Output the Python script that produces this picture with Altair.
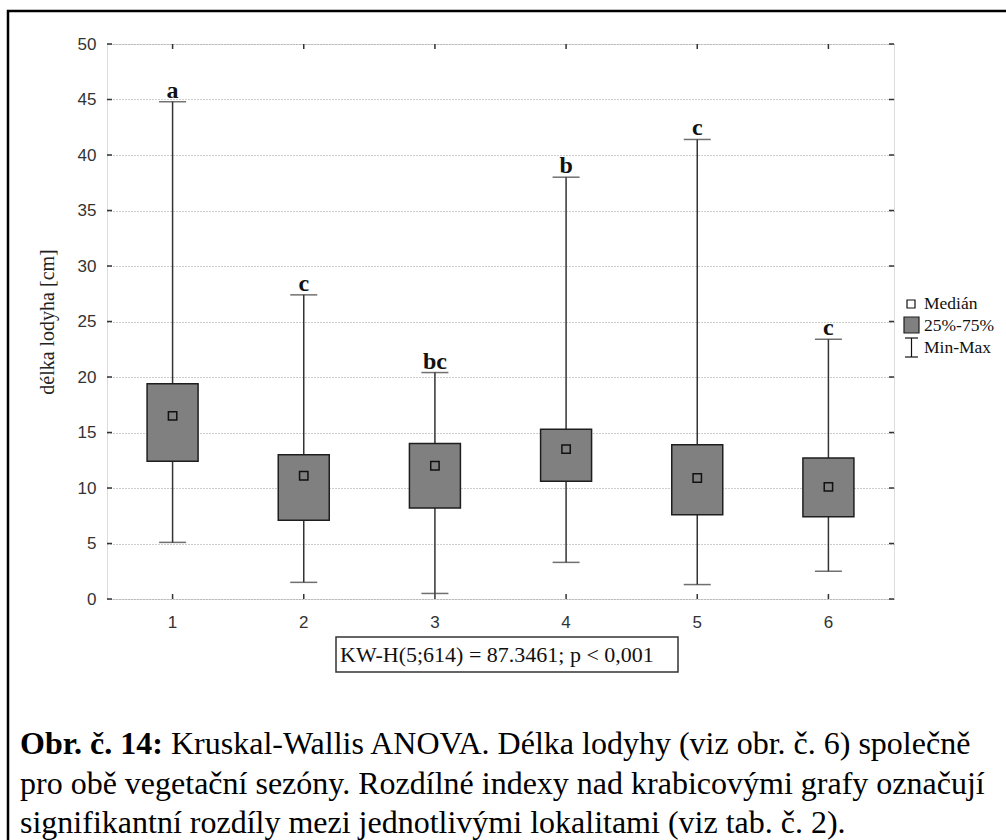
import altair as alt
import pandas as pd

sites = ["1", "2", "3", "4", "5", "6"]
mins = [5.1, 1.5, 0.5, 3.3, 1.3, 2.5]
q1 = [12.4, 7.1, 8.2, 10.6, 7.6, 7.4]
medians = [16.5, 11.1, 12.0, 13.5, 10.9, 10.1]
q3 = [19.4, 13.0, 14.0, 15.3, 13.9, 12.7]
maxs = [44.8, 27.4, 20.4, 38.0, 41.4, 23.4]
letters = ["a", "c", "bc", "b", "c", "c"]
yticks = [0, 5, 10, 15, 20, 25, 30, 35, 40, 45, 50]
legend_labels = ["Medián", "25%-75%", "Min-Max"]
kw_text = "KW-H(5;614) = 87.3461; p  < 0,001"
caption_bold = "Obr. č. 14:"
caption_line1 = "Kruskal-Wallis ANOVA. Délka lodyhy (viz obr. č. 6) společně"
caption_lines = [
    "pro obě vegetační sezóny. Rozdílné indexy nad krabicovými grafy označují",
    "signifikantní rozdíly mezi jednotlivými lokalitami (viz tab. č. 2).",
]

W, H = 787, 555
PL, PT = 107, 44

df = pd.DataFrame({"site": sites, "min": mins, "q1": q1, "med": medians,
                   "q3": q3, "max": maxs, "letter": letters})
ticks_df = pd.DataFrame({"v": yticks})
one = pd.DataFrame({"k": [0]})

xenc = alt.X("site:N", sort=sites,
             scale=alt.Scale(paddingInner=0, paddingOuter=0),
             axis=alt.Axis(title=None, labelAngle=0, tickSize=0, domain=False,
                           labelFont="Liberation Sans", labelFontSize=17,
                           labelColor="#333", labelPadding=15))
yscale = alt.Scale(domain=[0, 50], nice=False, zero=True)
yaxis = alt.Axis(values=yticks, grid=True, gridDash=[1, 2], gridColor="#9a9a9a",
                 gridWidth=1, tickSize=0, domain=False,
                 labelFont="Liberation Sans", labelFontSize=17, labelColor="#333",
                 labelPadding=11, title="délka lodyha [cm]",
                 titleFont="Liberation Serif", titleFontSize=20,
                 titleFontWeight="normal", titleColor="#222", titlePadding=20)

base = alt.Chart(df)

whisk = base.mark_rule(color="#333", strokeWidth=1.5).encode(
    x=xenc, y=alt.Y("min:Q", scale=yscale, axis=yaxis), y2="max:Q")
cap_lo = base.mark_tick(color="#333", size=27, thickness=1.5).encode(
    x="site:N", y="min:Q")
cap_hi = base.mark_tick(color="#333", size=27, thickness=1.5).encode(
    x="site:N", y="max:Q")
box = base.mark_bar(size=51, color="#808080", stroke="#1e1e1e",
                    strokeWidth=1.5).encode(x="site:N", y="q1:Q", y2="q3:Q")
med = base.mark_point(shape="square", size=70, filled=True, fill="#808080",
                      stroke="#111", strokeWidth=1.5, opacity=1).encode(
    x="site:N", y="med:Q")
lett = base.mark_text(font="Liberation Serif", fontSize=24, fontWeight="bold",
                      color="#111", baseline="alphabetic", dy=-4).encode(
    x="site:N", y="max:Q", text="letter:N")

tk = alt.Chart(ticks_df)
yt_l = tk.mark_rule(color="#333", strokeWidth=1.5).encode(
    y="v:Q", x=alt.value(0), x2=alt.value(5))
yt_r = tk.mark_rule(color="#333", strokeWidth=1.5).encode(
    y="v:Q", x=alt.value(W - 5), x2=alt.value(W))
xt_b = base.mark_rule(color="#333", strokeWidth=1.5).encode(
    x="site:N", y=alt.value(H - 5), y2=alt.value(H))
xt_t = base.mark_rule(color="#333", strokeWidth=1.5).encode(
    x="site:N", y=alt.value(0), y2=alt.value(5))

o = alt.Chart(one)
# legend
lg_med = o.mark_point(shape="square", size=64, filled=True, fill="white",
                      stroke="#111", strokeWidth=1.2, opacity=1).encode(
    x=alt.value(911 - PL), y=alt.value(304 - PT))
lg_box = o.mark_rect(fill="#808080", stroke="#1e1e1e", strokeWidth=1.2).encode(
    x=alt.value(904 - PL), x2=alt.value(919 - PL),
    y=alt.value(317 - PT), y2=alt.value(333 - PT))
lg_w1 = o.mark_rule(color="#111", strokeWidth=1.2).encode(
    x=alt.value(911.5 - PL), y=alt.value(338 - PT), y2=alt.value(357 - PT))
lg_w2 = o.mark_rule(color="#111", strokeWidth=1.2).encode(
    x=alt.value(905 - PL), x2=alt.value(918 - PL), y=alt.value(338 - PT))
lg_w3 = o.mark_rule(color="#111", strokeWidth=1.2).encode(
    x=alt.value(905 - PL), x2=alt.value(918 - PL), y=alt.value(357 - PT))
lg_y = [304, 326, 348]
lg_texts = [
    o.mark_text(font="Liberation Serif", fontSize=17.5, align="left",
                baseline="middle", color="#111", text=lab).encode(
        x=alt.value(924 - PL), y=alt.value(yy - PT))
    for lab, yy in zip(legend_labels, lg_y)
]

# KW box
kw_box = o.mark_rect(fill="white", stroke="#333", strokeWidth=1.5).encode(
    x=alt.value(336 - PL), x2=alt.value(678 - PL),
    y=alt.value(637 - PT), y2=alt.value(672 - PT))
kw = o.mark_text(font="Liberation Serif", fontSize=22, align="left",
                 baseline="middle", color="#111", text=kw_text).encode(
    x=alt.value(340 - PL), y=alt.value(655 - PT))

# frame
frame = o.mark_rect(fill=None, stroke="#000", strokeWidth=2.5).encode(
    x=alt.value(8 - PL), x2=alt.value(1030 - PL),
    y=alt.value(11 - PT), y2=alt.value(870 - PT))

# caption
CF = 32
cap_b = o.mark_text(font="Liberation Serif", fontSize=CF, fontWeight="bold",
                    align="left", baseline="middle", color="#000",
                    text=caption_bold).encode(
    x=alt.value(20 - PL), y=alt.value(744 - PT))
cap_1 = o.mark_text(font="Liberation Serif", fontSize=CF, align="left",
                    baseline="middle", color="#000",
                    text=caption_line1).encode(
    x=alt.value(171 - PL), y=alt.value(744 - PT))
cap_rest = o.mark_text(font="Liberation Serif", fontSize=CF, align="left",
                       baseline="middle", color="#000", lineHeight=39.5,
                       text=caption_lines).encode(
    x=alt.value(20 - PL), y=alt.value(783.5 - PT))

chart = alt.layer(
    whisk, cap_lo, cap_hi, box, med, lett, yt_l, yt_r, xt_b, xt_t,
    lg_med, lg_box, lg_w1, lg_w2, lg_w3, *lg_texts, kw_box, kw,
    frame, cap_b, cap_1, cap_rest
).properties(
    width=W, height=H,
    autosize=alt.AutoSizeParams(type="none"),
    padding={"left": PL, "top": PT, "right": 1006 - PL - W, "bottom": 840 - PT - H},
).configure_view(stroke="#333", strokeWidth=1.5).configure(background="white")

chart.save("out.html", embed_options={"renderer": "svg", "actions": False})
